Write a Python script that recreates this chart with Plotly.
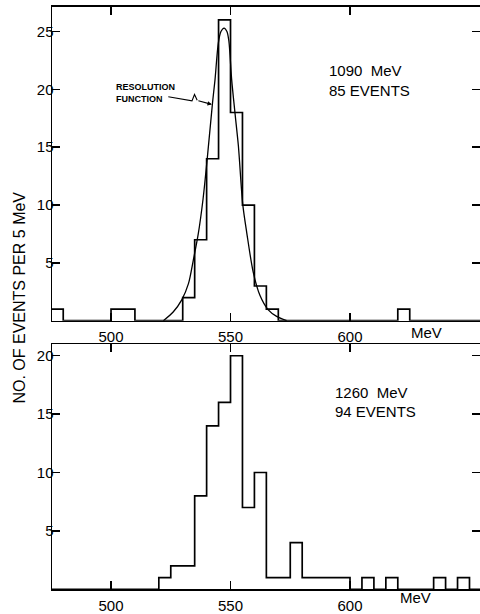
import plotly.graph_objects as go

# ---------------- data ----------------
bin_starts = list(range(475, 655, 5))          # 5 MeV bins, lower edges
bin_width = 5

top_counts = [1, 0, 0, 0, 0, 1, 1, 0, 0, 0,
              0, 2, 7, 14, 26, 18, 10, 3, 1, 0,
              0, 0, 0, 0, 0, 0, 0, 0, 0, 1,
              0, 0, 0, 0, 0, 0]

bottom_counts = [0, 0, 0, 0, 0, 0, 0, 0, 0, 1,
                 2, 2, 8, 14, 16, 20, 7, 10, 1, 1,
                 4, 1, 1, 1, 1, 0, 1, 0, 1, 0,
                 0, 0, 1, 0, 1, 0]

# resolution function
res_x = [521.9, 526.0, 529.6, 532.4, 534.4, 536.5, 538.5, 540.3, 542.5, 543.5,
         544.9, 546.0, 547.3, 548.5, 549.3, 550.5, 551.9, 553.3, 555.1, 556.8,
         559.5, 562.3, 565.8, 569.3, 573.5]
res_y = [0.0, 0.75, 1.8, 3.2, 5.2, 7.5, 10.5, 14.1, 18.9, 20.8,
         24.0, 25.0, 25.3, 25.0, 24.2, 20.8, 17.9, 15.1, 10.1, 7.6,
         4.2, 2.2, 0.94, 0.37, 0.0]

x_ticks = [500, 550, 600]
x_ticktext = ["500", "550", "600"]
top_yticks = [5, 10, 15, 20, 25]
bottom_yticks = [5, 10, 15, 20]

top_label = ["1090  MeV", "85 EVENTS"]
bottom_label = ["1260  MeV", "94 EVENTS"]
y_title = "NO. OF EVENTS PER 5 MeV"

# ---------------- layout helpers ----------------
W, H = 480, 614
ML = 52
X_RANGE = [475.3, 654.4]
TOP_RANGE = [0, 27.13]
BOT_RANGE = [0, 20.98]
TOP_DOMAIN = [(H - 326) / H, (H - 7) / H]
BOT_DOMAIN = [(H - 599) / H, (H - 350) / H]
FONT = "Liberation Sans, Arial, sans-serif"


def px_x(px):
    return (px - ML) / (W - ML)


def px_y(py):
    return (H - py) / H


step_x = bin_starts + [bin_starts[-1] + bin_width]
top_y = top_counts + [top_counts[-1]]
bot_y = bottom_counts + [bottom_counts[-1]]

fig = go.Figure()
fig.add_trace(go.Scatter(x=step_x, y=top_y, mode="lines", line_shape="hv",
                         line=dict(color="black", width=1.7),
                         xaxis="x", yaxis="y", hoverinfo="skip"))
fig.add_trace(go.Scatter(x=res_x, y=res_y, mode="lines", line_shape="spline",
                         line=dict(color="black", width=1.3, smoothing=0.8),
                         xaxis="x", yaxis="y", hoverinfo="skip"))
fig.add_trace(go.Scatter(x=step_x, y=bot_y, mode="lines", line_shape="hv",
                         line=dict(color="black", width=1.7),
                         xaxis="x2", yaxis="y2", hoverinfo="skip"))
# invisible traces for the right-hand tick axes
fig.add_trace(go.Scatter(x=step_x, y=top_y, mode="lines", opacity=0,
                         xaxis="x", yaxis="y3", hoverinfo="skip"))
fig.add_trace(go.Scatter(x=step_x, y=bot_y, mode="lines", opacity=0,
                         xaxis="x2", yaxis="y4", hoverinfo="skip"))

axis_common = dict(showgrid=False, zeroline=False, showline=True,
                   linecolor="black", linewidth=1.5, ticks="inside",
                   ticklen=8, tickwidth=1.4, tickcolor="black",
                   tickfont=dict(family=FONT, size=15, color="black"))

xcommon = dict(axis_common, range=X_RANGE, tickvals=x_ticks,
               ticktext=x_ticktext, mirror="ticks", domain=[0, 1],
               ticklabelstandoff=2)

ycommon = dict(axis_common, mirror=False, ticklabelstandoff=-6)
yright = dict(showgrid=False, zeroline=False, showline=False,
              ticks="inside", ticklen=8, tickwidth=1.4, tickcolor="black",
              showticklabels=False, side="right")

fig.update_layout(
    width=W, height=H,
    margin=dict(l=ML, r=0, t=0, b=0),
    paper_bgcolor="white", plot_bgcolor="white",
    showlegend=False,
    font=dict(family=FONT, color="black"),
    xaxis=dict(xcommon, anchor="y"),
    yaxis=dict(ycommon, domain=TOP_DOMAIN, range=TOP_RANGE,
               tickvals=top_yticks, anchor="x"),
    xaxis2=dict(xcommon, anchor="y2"),
    yaxis2=dict(ycommon, domain=BOT_DOMAIN, range=BOT_RANGE,
                tickvals=bottom_yticks, anchor="x2"),
    yaxis3=dict(yright, overlaying="y", anchor="x", range=TOP_RANGE,
                tickvals=top_yticks),
    yaxis4=dict(yright, overlaying="y2", anchor="x2", range=BOT_RANGE,
                tickvals=bottom_yticks),
)

ann = []
txt_font = dict(family=FONT, size=15, color="black")
ann.append(dict(xref="paper", yref="paper", x=px_x(327), y=px_y(71.5),
                xanchor="left", yanchor="middle", showarrow=False,
                text=top_label[0], font=txt_font))
ann.append(dict(xref="paper", yref="paper", x=px_x(327), y=px_y(92.3),
                xanchor="left", yanchor="middle", showarrow=False,
                text=top_label[1], font=txt_font))
ann.append(dict(xref="paper", yref="paper", x=px_x(332.7), y=px_y(399),
                xanchor="left", yanchor="middle", showarrow=False,
                text=bottom_label[0], font=txt_font))
ann.append(dict(xref="paper", yref="paper", x=px_x(332.7), y=px_y(418.3),
                xanchor="left", yanchor="middle", showarrow=False,
                text=bottom_label[1], font=txt_font))
# axis unit labels
ann.append(dict(xref="paper", yref="paper", x=px_x(426.7), y=px_y(337.5),
                xanchor="center", yanchor="middle", showarrow=False,
                text="MeV", font=txt_font))
ann.append(dict(xref="paper", yref="paper", x=px_x(415), y=px_y(607),
                xanchor="center", yanchor="middle", showarrow=False,
                text="MeV", font=txt_font))
# y title
ann.append(dict(xref="paper", yref="paper", x=px_x(20), y=px_y(302.5),
                xanchor="center", yanchor="middle", showarrow=False,
                textangle=-90, text=y_title,
                font=dict(family=FONT, size=16, color="black")))
# resolution function label
ann.append(dict(xref="paper", yref="paper", x=px_x(113.5), y=px_y(94.5),
                xanchor="left", yanchor="middle", showarrow=False,
                align="left", text="<b>RESOLUTION<br>FUNCTION</b>",
                font=dict(family=FONT, size=9, color="black")))
# arrow head onto curve
ann.append(dict(xref="x", yref="y", x=542.2, y=18.7,
                ax=-15, ay=-4, axref="pixel", ayref="pixel",
                showarrow=True, arrowhead=2, arrowsize=0.8, arrowwidth=1.1,
                arrowcolor="black", text=""))
fig.update_layout(annotations=ann)

# zigzag part of the arrow (converted from pixel positions)
def dx(px):
    return X_RANGE[0] + (px - ML) / (W - ML) * (X_RANGE[1] - X_RANGE[0])


def dy(py):
    return (326 - py) / (326 - 7) * TOP_RANGE[1]


zz = [(168.3, 98.3), (192.0, 102.5), (194.5, 96.0), (197.2, 102.0)]
path = "M " + " L ".join(f"{dx(a):.3f},{dy(b):.3f}" for a, b in zz)
fig.add_shape(type="path", path=path, xref="x", yref="y",
              line=dict(color="black", width=1.1))

fig.write_html("out.html",
               config={"displayModeBar": False, "staticPlot": True},
               post_script="document.body.style.margin='0px';"
                           "document.body.style.overflow='hidden';")
